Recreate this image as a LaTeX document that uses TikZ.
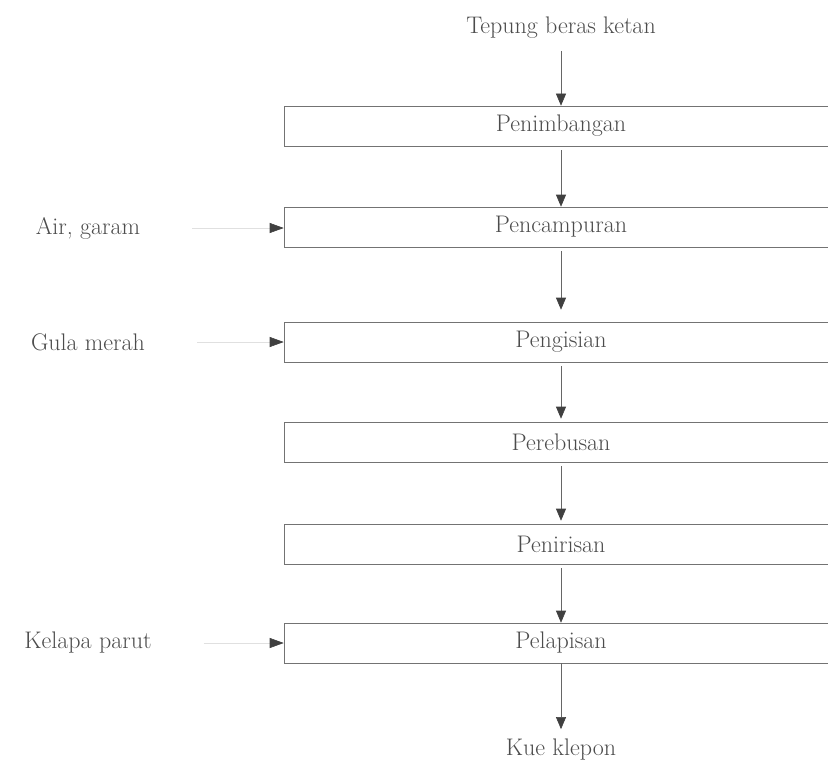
\documentclass[tikz,border=0pt]{standalone}
\usepackage{fontspec}
\usetikzlibrary{arrows.meta}

\begin{document}
\begin{tikzpicture}[x=1pt, y=-1pt,
    stepbox/.style={draw=black!55, line width=0.6pt, minimum width=\bw pt, minimum height=\bh pt,
        inner sep=0pt, text=black!70, font=\fontsize{24}{28}\selectfont},
    sidetext/.style={inner sep=2pt, text=black!70, font=\fontsize{24}{28}\selectfont},
    flow/.style={draw=black!60, line width=0.6pt, -{Triangle[width=10pt,length=12pt,color=black!75]}},
    feed/.style={draw=black!12, line width=0.6pt, -{Triangle[width=10pt,length=14pt,color=black!75]}}]
    \def\W{828}     % picture width
    \def\H{768}     % picture height
    \def\cx{561}    % flow axis
    \def\bw{554}    % box width
    \def\bh{40}     % box height
    \def\lx{88}     % side label axis
    \path[use as bounding box] (0,0) rectangle (\W,\H);
    \clip (0,0) rectangle (\W,\H);
    % Draw the process steps
    \node[sidetext] (tepung) at (\cx,28) {Tepung beras ketan};
    \node[stepbox] (timbang) at (\cx,126) {Penimbangan};
    \node[stepbox] (campur) at (\cx,227) {Pencampuran};
    \node[stepbox] (isi) at (\cx,342) {Pengisian};
    \node[stepbox] (rebus) at (\cx,442) {Perebusan};
    \node[stepbox] (tiris) at (\cx,544) {Penirisan};
    \node[stepbox] (lapis) at (\cx,643) {Pelapisan};
    \node[sidetext] (klepon) at (\cx,750) {Kue klepon};
    % Draw the side inputs
    \node[sidetext] (air) at (\lx,228) {Air, garam};
    \node[sidetext] (gula) at (\lx,342) {Gula merah};
    \node[sidetext] (kelapa) at (\lx,643) {Kelapa parut};
    % Draw the flow arrows
    \draw[flow, shorten <=10pt] (tepung) -- (timbang);
    \draw[flow, shorten <=4pt] (timbang) -- (campur);
    \draw[flow, shorten <=4pt, shorten >=12pt] (campur) -- (isi);
    \draw[flow, shorten <=4pt, shorten >=3pt] (isi) -- (rebus);
    \draw[flow, shorten <=4pt, shorten >=3pt] (rebus) -- (tiris);
    \draw[flow, shorten <=4pt] (tiris) -- (lapis);
    \draw[flow, shorten >=8pt] (lapis) -- (klepon);
    \draw[feed, shorten <=50pt] (air) -- (campur.west |- air);
    \draw[feed, shorten <=50pt] (gula) -- (isi.west |- gula);
    \draw[feed, shorten <=50pt] (kelapa) -- (lapis.west |- kelapa);
\end{tikzpicture}
\end{document}
